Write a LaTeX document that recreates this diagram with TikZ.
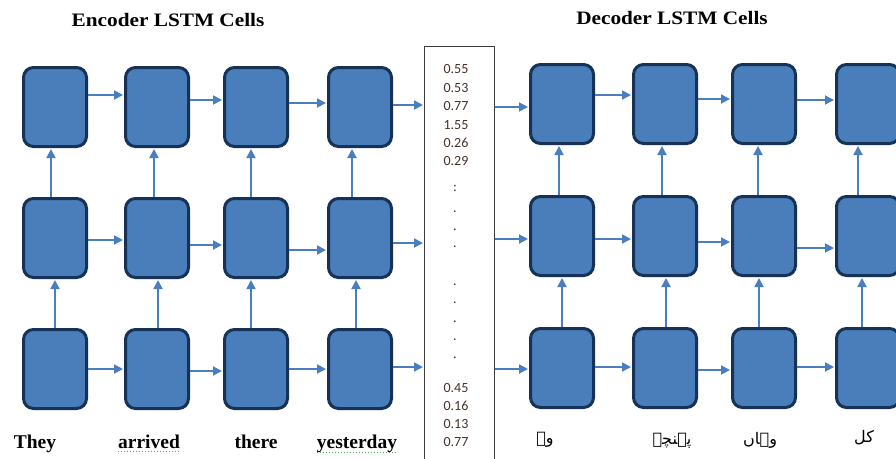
\documentclass[tikz,border=0pt]{standalone}
\usepackage{graphicx}
\usepackage{fontspec}
\setmainfont{Liberation Serif}
\newfontfamily\numfont{Carlito}
\newfontfamily\urdufont[Script=Arabic]{DejaVu Sans}
\TeXXeTstate=1
\usetikzlibrary{arrows.meta}
\definecolor{cellfill}{RGB}{74,126,187}
\definecolor{celldraw}{RGB}{22,50,86}
\definecolor{arrowblue}{RGB}{74,126,193}
\definecolor{numcol}{RGB}{70,50,40}
\definecolor{spellgreen}{RGB}{90,165,90}
\definecolor{vecgray}{RGB}{60,60,60}
\begin{document}
\begin{tikzpicture}[x=1pt,y=-1pt,
  cell/.style={draw=celldraw, fill=cellfill, line width=3pt, rounded corners=10pt,
    minimum width=63pt, minimum height=79pt, inner sep=0pt},
  arr/.style={draw=arrowblue, line width=1.8pt, -{Triangle[length=9pt,width=9pt]}, shorten >=1pt},
  title/.style={font=\bfseries\fontsize{19}{22}\selectfont, inner sep=0pt},
  word/.style={font=\bfseries\fontsize{19.5}{22}\selectfont, inner sep=0pt, anchor=base},
  urdu/.style={font=\urdufont\fontsize{16}{20}\selectfont, inner sep=0pt},
  num/.style={font=\numfont\fontsize{14}{16}\selectfont, text=numcol, inner sep=0pt},
  spell/.style={draw=spellgreen, line width=1pt, dotted}
]
\useasboundingbox (0,0) rectangle (896,458);
\fill[white] (0,0) rectangle (896,458);

% titles
\node[title] (enctitle) at (168,20) {\scalebox{1.12}[1]{Encoder LSTM Cells}};
\node[title] (dectitle) at (672,18) {\scalebox{1.12}[1]{Decoder LSTM Cells}};

% encoder cells
\foreach \c/\x in {1/55,2/157,3/256,4/360}{
  \foreach \r/\y in {1/107,2/238,3/369}{
    \node[cell] (e\r\c) at (\x,\y) {};
  }
}
% decoder cells
\foreach \c/\x in {1/562,2/665,3/764,4/868}{
  \foreach \r/\y in {1/104,2/236,3/368}{
    \node[cell] (d\r\c) at (\x,\y) {};
  }
}

% context vector
\node[draw=vecgray, line width=1.2pt, minimum width=70pt, minimum height=430pt,
  inner sep=0pt, anchor=north west] (vec) at (424,46) {};
\foreach \t/\y [count=\i] in {0.55/69,0.53/88,0.77/106,1.55/125,0.26/143,0.29/161,
   0.45/388,0.16/406,0.13/424,0.77/442}{
  \node[num] (n\i) at (456,\y) {\t};
}
\node[num] (dc) at (455,188) {:};
\foreach \y [count=\i] in {212,230,247,285,303,322,340,358}{
  \node[num] (dot\i) at (455,\y) {.};
}

% horizontal arrows
\foreach \a/\b/\y in {e11/e12/95, e12/e13/100, e13/e14/103, e14/vec/105,
  e21/e22/240, e22/e23/245, e23/e24/250, e24/vec/243,
  e31/e32/369, e32/e33/371, e33/e34/369, e34/vec/367,
  vec/d11/107, d11/d12/95, d12/d13/99, d13/d14/100,
  vec/d21/239, d21/d22/239, d22/d23/242, d23/d24/248,
  vec/d31/369, d31/d32/367, d32/d33/370, d33/d34/367}{
  \draw[arr] (\a.east |- 0,\y) -- (\b.west |- 0,\y);
}

% vertical arrows
\foreach \c/\xu/\xl in {1/51/55, 2/154/158, 3/251/251, 4/352/356}{
  \draw[arr] (\xu,0 |- e2\c.north) -- (\xu,0 |- e1\c.south);
  \draw[arr] (\xl,0 |- e3\c.north) -- (\xl,0 |- e2\c.south);
}
\foreach \c/\xu/\xl in {1/559/562, 2/662/666, 3/758/759, 4/858/862}{
  \draw[arr] (\xu,0 |- d2\c.north) -- (\xu,0 |- d1\c.south);
  \draw[arr] (\xl,0 |- d3\c.north) -- (\xl,0 |- d2\c.south);
}

% English words
\node[word] (w1) at (35,448) {They};
\node[word] (w2) at (149,448) {arrived};
\node[word] (w3) at (256,448) {there};
\node[word] (w4) at (357,448) {yesterday};
\draw[spell] ([yshift=-3pt]w2.base west) -- ([yshift=-3pt]w2.base east);
\draw[spell] ([yshift=-4pt]w4.base west) -- ([yshift=-4pt]w4.base east);

% Urdu words
\node[urdu] (u1) at (545,440) {\beginR وہ\endR};
\node[urdu] (u2) at (672,441) {\beginR پہنچے\endR};
\node[urdu] (u3) at (760,440) {\beginR وہاں\endR};
\node[urdu] (u4) at (864,438) {\beginR کل\endR};
\end{tikzpicture}
\end{document}
